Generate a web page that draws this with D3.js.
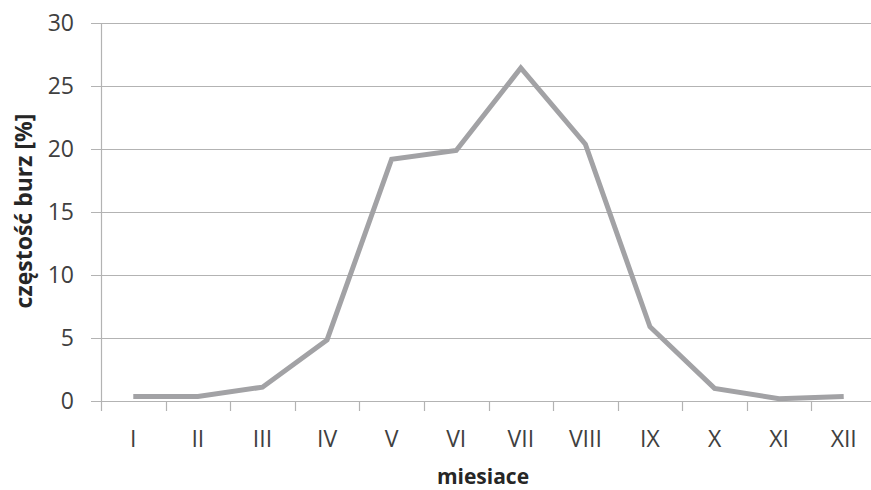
<!DOCTYPE html>
<html><head><meta charset="utf-8">
<script src="https://cdn.jsdelivr.net/npm/d3@7"></script>
<style>html,body{margin:0;padding:0;background:#fff;}svg{display:block;}</style>
</head><body>
<svg id="c" width="871" height="490"></svg>
<script>
const months = ["I","II","III","IV","V","VI","VII","VIII","IX","X","XI","XII"];
const frequency = [0.35,0.35,1.1,4.85,19.2,19.9,26.45,20.4,5.9,1.0,0.18,0.35];
const yTicks = [0,5,10,15,20,25,30];
const xTitle = "miesiace";
const yTitle = "częstość burz [%]";

(function(){
const svg = d3.select("#c");
const pLeft = 101, pRight = 876, pTop = 23.3, pBottom = 401;
const x = d3.scaleBand().domain(months).range([pLeft, pRight]);
const y = d3.scaleLinear().domain([0,30]).range([pBottom, pTop]);
const font = "'Open Sans', sans-serif";
const gridColor = "#b3b3b3";

svg.append("g").selectAll("line").data(yTicks).join("line")
  .attr("x1", pLeft - 10).attr("x2", pRight)
  .attr("y1", d => Math.round(y(d)) + 0.5).attr("y2", d => Math.round(y(d)) + 0.5)
  .attr("stroke", gridColor).attr("stroke-width", 1.2);

svg.append("g").selectAll("text").data(yTicks).join("text")
  .attr("x", 74).attr("y", d => y(d)).attr("dy", "0.35em")
  .attr("text-anchor", "end").attr("font-family", font).attr("font-size", 23)
  .attr("fill", "#404040").text(d => d);

svg.append("line").attr("x1", pLeft + 0.5).attr("x2", pLeft + 0.5)
  .attr("y1", pTop).attr("y2", pBottom + 10)
  .attr("stroke", gridColor).attr("stroke-width", 1.2);

const bounds = months.map(m => x(m)).slice(1);
svg.append("g").selectAll("line").data(bounds).join("line")
  .attr("x1", d => Math.round(d) + 0.5).attr("x2", d => Math.round(d) + 0.5)
  .attr("y1", pBottom).attr("y2", pBottom + 10)
  .attr("stroke", gridColor).attr("stroke-width", 1.2);

svg.append("g").selectAll("text").data(months).join("text")
  .attr("x", d => x(d) + x.bandwidth()/2).attr("y", 447)
  .attr("text-anchor", "middle").attr("font-family", font).attr("font-size", 23)
  .attr("fill", "#404040").text(d => d);

const line = d3.line().x((d,i) => x(months[i]) + x.bandwidth()/2).y(d => y(d));
svg.append("path").datum(frequency).attr("d", line)
  .attr("fill", "none").attr("stroke", "#a2a2a5").attr("stroke-width", 5)
  .attr("stroke-linejoin", "miter").attr("stroke-linecap", "butt");

svg.append("text").attr("x", 483).attr("y", 484).attr("text-anchor", "middle")
  .attr("font-family", font).attr("font-weight", "bold").attr("font-size", 21)
  .attr("fill", "#262626").text(xTitle);
svg.append("text").attr("transform", "translate(32,211) rotate(-90)")
  .attr("text-anchor", "middle")
  .attr("font-family", font).attr("font-weight", "bold").attr("font-size", 23)
  .attr("fill", "#262626").text(yTitle);
})();
</script>
</body></html>
